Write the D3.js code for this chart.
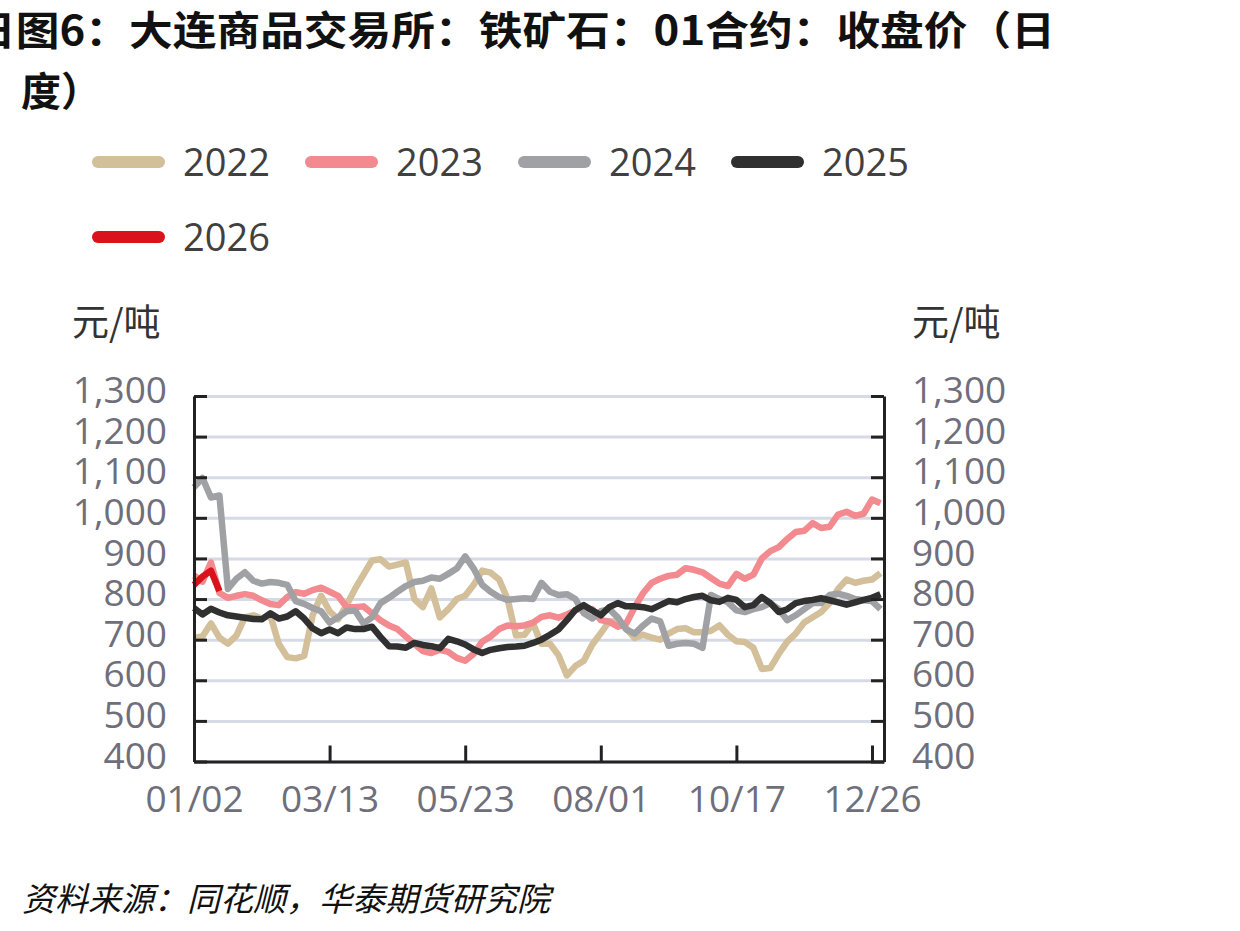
<!DOCTYPE html>
<html>
<head>
<meta charset="utf-8">
<script src="https://cdn.jsdelivr.net/npm/d3@7"></script>
<style>
  body { margin: 0; background: #fff; }
  svg { display: block; }
</style>
</head>
<body>
<div id="chart"></div>
<script>
// trading-day index of the x ticks and their labels
const xTickIdx = [0, 48, 96, 144, 192, 240];
const xTickLabels = ["01/02", "03/13", "05/23", "08/01", "10/17", "12/26"];
const yTicks = [400, 500, 600, 700, 800, 900, 1000, 1100, 1200, 1300];
const years = ["2022", "2023", "2024", "2025", "2026"];
const colors = ["#d3bf99", "#f28a8f", "#9fa1a4", "#303030", "#d9121b"];

// closing prices, one value every 3 trading days
const step = 3;
const v2022 = [704, 708, 740, 705, 690, 710, 755, 760, 752, 760, 690, 657, 654, 660, 760, 808,
  770, 750, 785, 825, 860, 895, 898, 880, 885, 890, 800, 780, 826, 755, 775, 800,
  808, 835, 870, 865, 848, 800, 710, 712, 740, 690, 690, 662, 612, 635, 648, 688,
  716, 745, 745, 728, 704, 712, 705, 700, 715, 726, 728, 718, 718, 722, 735, 712,
  696, 694, 680, 628, 630, 665, 695, 715, 742, 755, 768, 790, 825, 848, 840, 845,
  848, 864];
const v2023 = [858, 843, 890, 815, 803, 808, 812, 808, 797, 788, 785, 805, 817, 813, 822, 828,
  818, 808, 780, 780, 782, 765, 748, 735, 726, 708, 690, 672, 667, 675, 670, 655,
  648, 665, 695, 708, 726, 735, 733, 735, 742, 756, 760, 754, 762, 772, 778, 775,
  748, 744, 732, 740, 780, 815, 840, 850, 857, 860, 876, 872, 866, 852, 838, 832,
  862, 850, 860, 900, 918, 928, 948, 965, 968, 987, 975, 978, 1008, 1015, 1005, 1010,
  1045, 1036];
const v2024 = [1075, 1098, 1050, 1055, 825, 850, 866, 845, 838, 842, 840, 835, 795, 788, 778, 770,
  742, 755, 770, 772, 740, 755, 790, 803, 818, 832, 842, 845, 853, 850, 862, 875,
  905, 875, 835, 818, 805, 798, 800, 802, 800, 840, 818, 810, 812, 800, 765, 752,
  770, 775, 755, 725, 715, 735, 752, 745, 685, 690, 692, 690, 680, 810, 800, 792,
  772, 768, 775, 780, 790, 775, 748, 760, 775, 790, 790, 810, 813, 808, 800, 797,
  795, 775];
const v2025 = [778, 762, 776, 767, 760, 757, 754, 751, 750, 765, 752, 757, 770, 752, 728, 716,
  725, 716, 730, 726, 726, 732, 707, 684, 683, 680, 692, 687, 684, 679, 702, 696,
  688, 676, 667, 675, 679, 682, 683, 685, 692, 700, 712, 725, 748, 773, 785, 772,
  760, 780, 790, 782, 782, 780, 775, 785, 795, 792, 800, 805, 808, 797, 793, 803,
  798, 780, 785, 805, 790, 768, 775, 790, 795, 798, 802, 797, 792, 786, 792, 798,
  803, 812];
const v2026 = [835, 855, 870, 820];
const seriesValues = [v2022, v2023, v2024, v2025, v2026];

const width = 1240, height = 931;
const svg = d3.select("#chart").append("svg")
  .attr("width", width)
  .attr("height", height);

const x = d3.scaleLinear().domain([0, 244.25]).range([194, 884]);
const y = d3.scaleLinear().domain([400, 1300]).range([761.5, 396]);

const cjk = "'Noto Sans CJK SC', 'Noto Sans', sans-serif";
const num = "'Open Sans', 'Noto Sans', sans-serif";

// title (first glyph is clipped at the left edge, as in the source)
svg.append("text")
  .attr("x", -28).attr("y", 45)
  .attr("textLength", 1083).attr("lengthAdjust", "spacingAndGlyphs")
  .style("font-family", cjk).style("font-weight", 700).style("font-size", "40px")
  .attr("fill", "#111")
  .text("日图6：大连商品交易所：铁矿石：01合约：收盘价（日");
svg.append("text")
  .attr("x", 21).attr("y", 106)
  .style("font-family", cjk).style("font-weight", 700).style("font-size", "40px")
  .attr("fill", "#111")
  .text("度）");

// legend
const legend = svg.append("g");
years.forEach((yr, i) => {
  const col = i % 4, row = Math.floor(i / 4);
  const g = legend.append("g").attr("transform", `translate(${98 + col * 213}, ${162 + row * 75})`);
  g.append("line")
    .attr("x1", 0).attr("x2", 61).attr("y1", 0).attr("y2", 0)
    .attr("stroke", colors[i]).attr("stroke-width", 12).attr("stroke-linecap", "round");
  g.append("text")
    .attr("x", 85).attr("y", 0).attr("dy", "0.36em")
    .style("font-family", num).style("font-size", "38px")
    .attr("fill", "#404040")
    .text(yr);
});

// unit labels
[72, 912].forEach(ux => {
  svg.append("text")
    .attr("x", ux).attr("y", 336)
    .style("font-family", cjk).style("font-size", "37px")
    .attr("fill", "#333")
    .text("元/吨");
});

// gridlines
svg.append("g")
  .attr("transform", "translate(194,0)")
  .call(d3.axisLeft(y).tickValues(yTicks).tickSize(-690).tickFormat(""))
  .call(g => g.select(".domain").remove())
  .call(g => g.selectAll(".tick line").attr("stroke", "#d6dae6").attr("stroke-width", 3));

// series lines
const line = d3.line()
  .x((d, i) => x(i * step))
  .y(d => y(d));

svg.append("g")
  .selectAll("path")
  .data(seriesValues)
  .join("path")
  .attr("d", d => line(d))
  .attr("fill", "none")
  .attr("stroke", (d, i) => colors[i])
  .attr("stroke-width", 6.5)
  .attr("stroke-linejoin", "round");

// axes
function styleAxis(g) {
  g.select(".domain").attr("stroke", "#222").attr("stroke-width", 3);
  g.selectAll(".tick line").attr("stroke", "#222").attr("stroke-width", 3);
  g.selectAll(".tick text")
    .style("font-family", num).style("font-size", "37px")
    .attr("fill", "#6f6e7b");
}

svg.append("g")
  .attr("transform", "translate(194,0)")
  .call(d3.axisLeft(y).tickValues(yTicks).tickFormat(d3.format(","))
    .tickSize(-13).tickSizeOuter(0).tickPadding(27))
  .call(styleAxis)
  .call(g => g.selectAll(".tick text").attr("dy", "0.18em"));

svg.append("g")
  .attr("transform", "translate(884,0)")
  .call(d3.axisRight(y).tickValues(yTicks).tickFormat(d3.format(","))
    .tickSize(-13).tickSizeOuter(0).tickPadding(28))
  .call(styleAxis)
  .call(g => g.selectAll(".tick text").attr("dy", "0.18em"));

svg.append("g")
  .attr("transform", "translate(0,761.5)")
  .call(d3.axisBottom(x).tickValues(xTickIdx).tickFormat((d, i) => xTickLabels[i])
    .tickSize(-16).tickSizeOuter(0).tickPadding(24))
  .call(styleAxis);

// source
svg.append("text")
  .attr("x", 22).attr("y", 911)
  .style("font-family", cjk).style("font-size", "33px").style("font-style", "italic")
  .attr("fill", "#111")
  .text("资料来源：同花顺，华泰期货研究院");
</script>
</body>
</html>
